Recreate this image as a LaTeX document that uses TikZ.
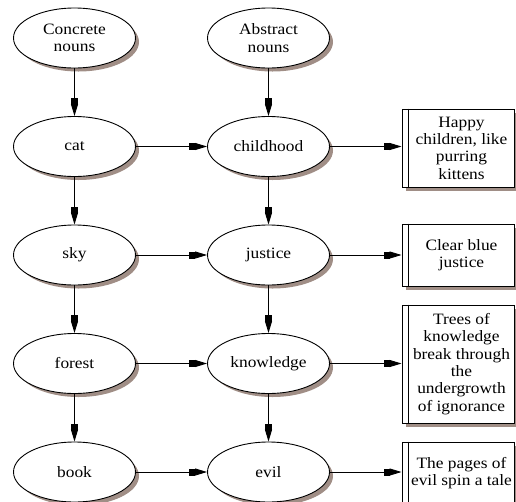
\documentclass[tikz,border=0pt]{standalone}
\usepackage{fontspec}
\setmainfont{Liberation Serif}[FakeStretch=1.1]
\usetikzlibrary{arrows.meta,shapes.geometric}
\definecolor{shadowc}{RGB}{160,142,134}
\tikzset{
  oval/.style={ellipse, draw=black, line width=0.9pt, fill=white,
    minimum width=122pt, minimum height=60pt, inner sep=0pt, align=center},
  notebox/.style={rectangle, draw=black, line width=0.9pt, fill=white,
    minimum width=112pt, inner sep=0pt, align=center},
  link/.style={draw=black, line width=0.9pt,
    -{Rectangle[length=6pt,width=7pt]Triangle[length=12pt,width=7pt]}},
  shade oval/.style={fill=shadowc, draw=none},
}
\begin{document}
\begin{tikzpicture}[x=1pt,y=-1pt,
  every node/.style={font=\fontsize{15.8}{17.4}\selectfont}]
\useasboundingbox (0,0) rectangle (516,501);
\clip (0,0) rectangle (516,501);

% drop shadows, drawn first so the shapes sit on top of them
\foreach \x/\y in {74.5/38, 268.5/38, 74.5/146.5, 268.5/146.5, 74.5/255,
                   268.5/255, 74.5/363.5, 268.5/363.5, 74.5/472, 268.5/472}
  \path[shade oval] (\x+4,\y+4) ellipse [x radius=60.5, y radius=29.5];
\foreach \y/\h in {148/78, 255/62, 364/118, 473/62}
  \path[shade oval] (402+4,\y-\h/2+4) rectangle (514+4,\y+\h/2+4);

% two columns of nouns
\node[oval] (cn) at (74.5,38) {Concrete\\nouns};
\node[oval] (an) at (268.5,38) {Abstract\\nouns};
\node[oval] (cat) at (74.5,146.5) {cat};
\node[oval] (child) at (268.5,146.5) {childhood};
\node[oval] (sky) at (74.5,255) {sky};
\node[oval] (just) at (268.5,255) {justice};
\node[oval] (forest) at (74.5,363.5) {forest};
\node[oval] (know) at (268.5,363.5) {knowledge};
\node[oval] (book) at (74.5,472) {book};
\node[oval] (evil) at (268.5,472) {evil};

% resulting images
\node[notebox, minimum height=78pt] (b1) at (458,148) {\hspace*{7pt}Happy\\\hspace*{7pt}children, like\\\hspace*{7pt}purring\\\hspace*{7pt}kittens};
\node[notebox, minimum height=62pt] (b2) at (458,255) {\hspace*{7pt}Clear blue\\\hspace*{7pt}justice};
\node[notebox, minimum height=118pt] (b3) at (458,364) {\hspace*{7pt}Trees of\\\hspace*{7pt}knowledge\\\hspace*{7pt}break through\\\hspace*{7pt}the\\\hspace*{7pt}undergrowth\\\hspace*{7pt}of ignorance};
\node[notebox, minimum height=62pt] (b4) at (458,473) {\hspace*{7pt}The pages of\\\hspace*{7pt}evil spin a tale};

\foreach \b in {b1,b2,b3,b4}
  \draw[line width=0.9pt] ([xshift=7pt]\b.north west) -- ([xshift=7pt]\b.south west);

% vertical links
\draw[link] (cn) -- (cat);
\draw[link] (cat) -- (sky);
\draw[link] (sky) -- (forest);
\draw[link] (forest) -- (book);
\draw[link] (an) -- (child);
\draw[link] (child) -- (just);
\draw[link] (just) -- (know);
\draw[link] (know) -- (evil);

% horizontal links
\draw[link] (cat) -- (child);
\draw[link] (sky) -- (just);
\draw[link] (forest) -- (know);
\draw[link] (book) -- (evil);
\draw[link] (child.east) -- (child.east -| b1.west);
\draw[link] (just.east) -- (just.east -| b2.west);
\draw[link] (know.east) -- (know.east -| b3.west);
\draw[link] (evil.east) -- (evil.east -| b4.west);
\end{tikzpicture}
\end{document}
